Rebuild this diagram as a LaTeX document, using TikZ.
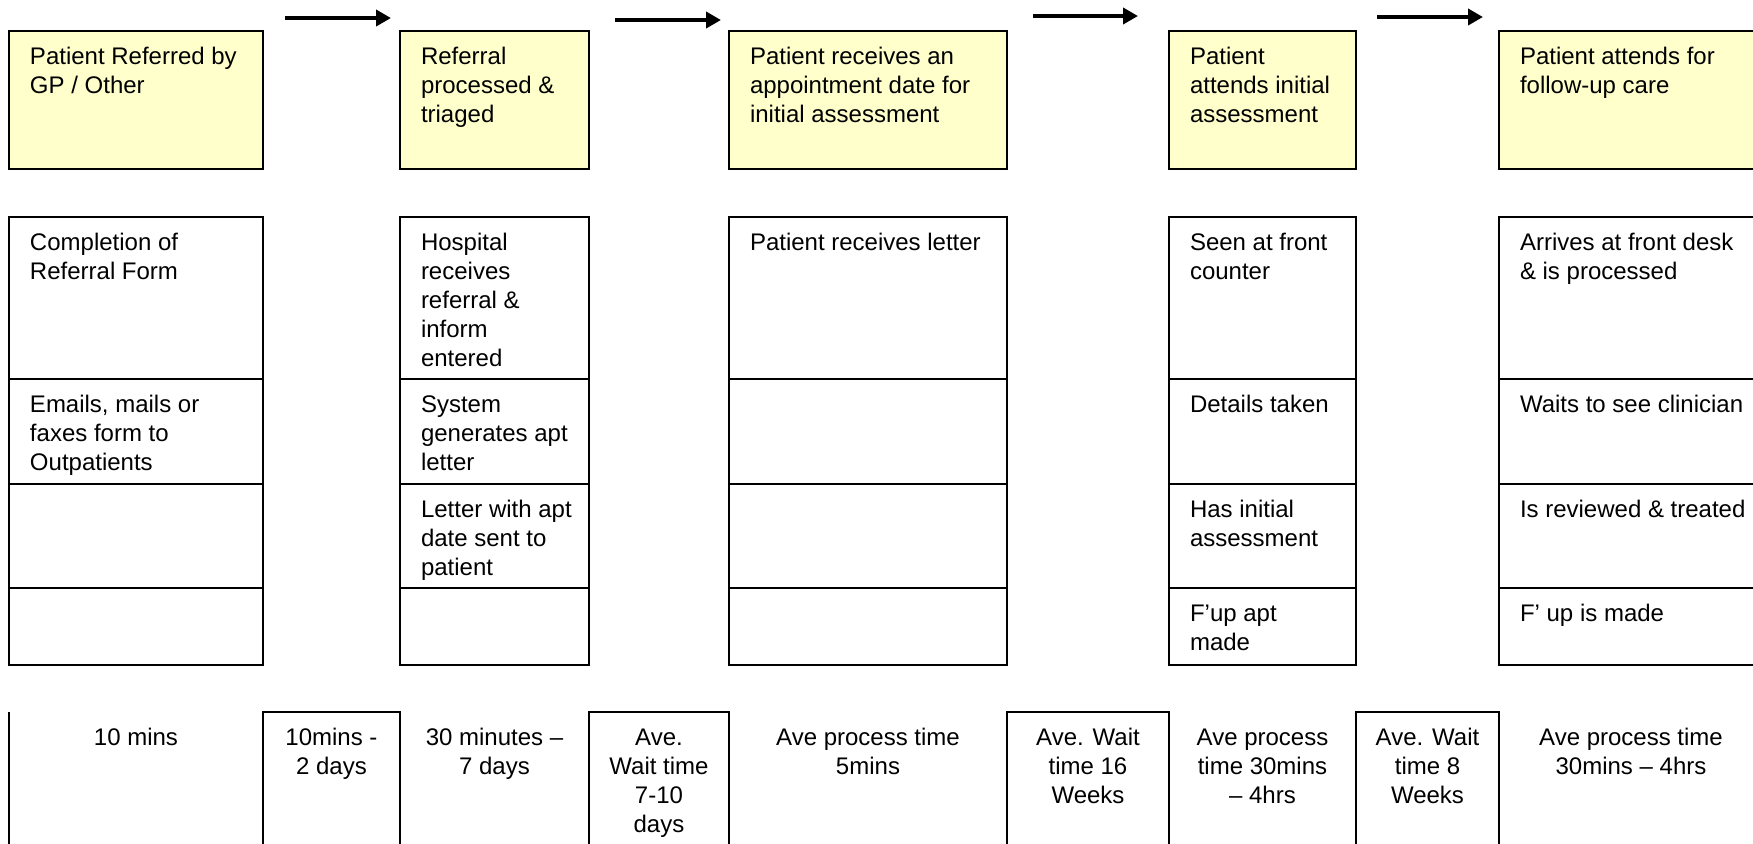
\documentclass[tikz,border=0pt]{standalone}
\usepackage{fontspec}
\setmainfont{Liberation Sans}
\usepackage{xcolor}
\usepackage{tikz}
\usetikzlibrary{arrows.meta}

\definecolor{stagefill}{RGB}{255,255,204}
\newcommand{\leftlines}[1]{\begin{tabular}[t]{@{}l@{}}#1\end{tabular}}
\newcommand{\midlines}[1]{\begin{tabular}[t]{@{}c@{}}#1\end{tabular}}

\begin{document}
\begin{tikzpicture}[x=0.5pt,y=-0.5pt,line width=1pt,
  every node/.style={font=\fontsize{12pt}{14.5pt}\selectfont},
  flow/.style={-{Triangle[length=7.5pt,width=8pt]},line width=2.2pt}]

  \tikzstyle{stage} = [rectangle,draw,fill=stagefill,inner sep=0pt,outer sep=0pt,anchor=north west,minimum height=69pt]
  \tikzstyle{cell} = [rectangle,draw,inner sep=0pt,outer sep=0pt,anchor=north west]
  \tikzstyle{rowa} = [cell,minimum height=81pt]
  \tikzstyle{rowb} = [cell,minimum height=52.5pt]
  \tikzstyle{rowc} = [cell,minimum height=52pt]
  \tikzstyle{rowd} = [cell,minimum height=38.5pt]
  \tikzstyle{boxtext} = [inner sep=0pt,anchor=base west]
  \tikzstyle{timetext} = [inner sep=0pt,anchor=base]

  \useasboundingbox (0,0) rectangle (1753,843);

  % stages along the top
  \node[stage,minimum width=127pt] (s1) at (9,31) {};
  \node[stage,minimum width=94.5pt] (s2) at (400,31) {};
  \node[stage,minimum width=139pt] (s3) at (729,31) {};
  \node[stage,minimum width=93.5pt] (s4) at (1169,31) {};
  \node[stage,minimum width=135pt] (s5) at (1499,31) {};

  \node[boxtext] (s1t) at ([shift={(20,33)}]s1.north west) {\leftlines{Patient Referred by\\GP / Other}};
  \node[boxtext] (s2t) at ([shift={(20,33)}]s2.north west) {\leftlines{Referral\\processed \&\\triaged}};
  \node[boxtext] (s3t) at ([shift={(20,33)}]s3.north west) {\leftlines{Patient receives an\\appointment date for\\initial assessment}};
  \node[boxtext] (s4t) at ([shift={(20,33)}]s4.north west) {\leftlines{Patient\\attends initial\\assessment}};
  \node[boxtext] (s5t) at ([shift={(20,33)}]s5.north west) {\leftlines{Patient attends for\\follow-up care}};

  \coordinate (a1s) at (285,18);  \coordinate (a1e) at (391,18);
  \coordinate (a2s) at (615,20);  \coordinate (a2e) at (721,20);
  \coordinate (a3s) at (1033,16); \coordinate (a3e) at (1138,16);
  \coordinate (a4s) at (1377,17); \coordinate (a4e) at (1483,17);
  \draw[flow] (a1s) -- (a1e);
  \draw[flow] (a2s) -- (a2e);
  \draw[flow] (a3s) -- (a3e);
  \draw[flow] (a4s) -- (a4e);

  % steps in each stage
  \node[rowa,minimum width=127pt] (m11) at (9,217) {};
  \node[rowb,minimum width=127pt] (m12) at (m11.south west) {};
  \node[rowc,minimum width=127pt] (m13) at (m12.south west) {};
  \node[rowd,minimum width=127pt] (m14) at (m13.south west) {};

  \node[rowa,minimum width=94.5pt] (m21) at (400,217) {};
  \node[rowb,minimum width=94.5pt] (m22) at (m21.south west) {};
  \node[rowc,minimum width=94.5pt] (m23) at (m22.south west) {};
  \node[rowd,minimum width=94.5pt] (m24) at (m23.south west) {};

  \node[rowa,minimum width=139pt] (m31) at (729,217) {};
  \node[rowb,minimum width=139pt] (m32) at (m31.south west) {};
  \node[rowc,minimum width=139pt] (m33) at (m32.south west) {};
  \node[rowd,minimum width=139pt] (m34) at (m33.south west) {};

  \node[rowa,minimum width=93.5pt] (m41) at (1169,217) {};
  \node[rowb,minimum width=93.5pt] (m42) at (m41.south west) {};
  \node[rowc,minimum width=93.5pt] (m43) at (m42.south west) {};
  \node[rowd,minimum width=93.5pt] (m44) at (m43.south west) {};

  \node[rowa,minimum width=135pt] (m51) at (1499,217) {};
  \node[rowb,minimum width=135pt] (m52) at (m51.south west) {};
  \node[rowc,minimum width=135pt] (m53) at (m52.south west) {};
  \node[rowd,minimum width=135pt] (m54) at (m53.south west) {};

  \node[boxtext] (m11t) at ([shift={(20,33)}]m11.north west) {\leftlines{Completion of\\Referral Form}};
  \node[boxtext] (m12t) at ([shift={(20,33)}]m12.north west) {\leftlines{Emails, mails or\\faxes form to\\Outpatients}};
  \node[boxtext] (m21t) at ([shift={(20,33)}]m21.north west) {\leftlines{Hospital\\receives\\referral \&\\inform\\entered}};
  \node[boxtext] (m22t) at ([shift={(20,33)}]m22.north west) {\leftlines{System\\generates apt\\letter}};
  \node[boxtext] (m23t) at ([shift={(20,33)}]m23.north west) {\leftlines{Letter with apt\\date sent to\\patient}};
  \node[boxtext] (m31t) at ([shift={(20,33)}]m31.north west) {Patient receives letter};
  \node[boxtext] (m41t) at ([shift={(20,33)}]m41.north west) {\leftlines{Seen at front\\counter}};
  \node[boxtext] (m42t) at ([shift={(20,33)}]m42.north west) {Details taken};
  \node[boxtext] (m43t) at ([shift={(20,33)}]m43.north west) {\leftlines{Has initial\\assessment}};
  \node[boxtext] (m44t) at ([shift={(20,33)}]m44.north west) {\leftlines{F’up apt\\made}};
  \node[boxtext] (m51t) at ([shift={(20,33)}]m51.north west) {\leftlines{Arrives at front desk\\\& is processed}};
  \node[boxtext] (m52t) at ([shift={(20,33)}]m52.north west) {Waits to see clinician};
  \node[boxtext] (m53t) at ([shift={(20,33)}]m53.north west) {Is reviewed \& treated};
  \node[boxtext] (m54t) at ([shift={(20,33)}]m54.north west) {F’ up is made};

  % times along the bottom
  \coordinate (edgetop) at (9,712); \coordinate (edgebot) at (9,860);
  \draw (edgetop) -- (edgebot);
  \node[cell,minimum width=68.5pt,minimum height=80pt] (w1) at (263,712) {};
  \node[cell,minimum width=70pt,minimum height=80pt] (w2) at (589,712) {};
  \node[cell,minimum width=81pt,minimum height=80pt] (w3) at (1007,712) {};
  \node[cell,minimum width=71.5pt,minimum height=80pt] (w4) at (1356,712) {};

  \node[timetext] (p1) at (136,745) {10 mins};
  \node[timetext] (w1t) at (331.5,745) {\midlines{10mins -\\2 days}};
  \node[timetext] (p2) at (494.5,745) {\midlines{30 minutes –\\7 days}};
  \node[timetext] (w2t) at (659,745) {\midlines{Ave.\\Wait time\\7-10\\days}};
  \node[timetext] (p3) at (868,745) {\midlines{Ave process time\\5mins}};
  \node[timetext] (w3t) at (1088,745) {\midlines{Ave. Wait\\time 16\\Weeks}};
  \node[timetext] (p4) at (1262.5,745) {\midlines{Ave process\\time 30mins\\– 4hrs}};
  \node[timetext] (w4t) at (1427.5,745) {\midlines{Ave. Wait\\time 8\\Weeks}};
  \node[timetext] (p5) at (1631,745) {\midlines{Ave process time\\30mins – 4hrs}};

\end{tikzpicture}
\end{document}
